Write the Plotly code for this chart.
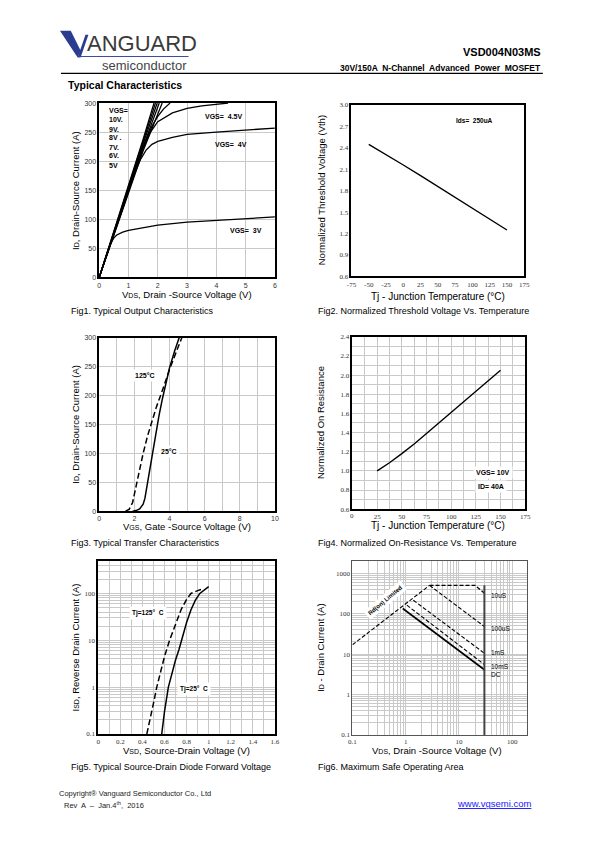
import math
import plotly.graph_objects as go

W, H = 595, 842

# ---------------- DATA ----------------
# Fig1 output characteristics (VDS V, ID A)
f1_v_3 = [0, 0.1, 0.2, 0.3, 0.4, 0.5, 0.6, 0.8, 1.0, 1.5, 2, 3, 4, 5, 6]
f1_i_3 = [0, 16, 32, 47, 59, 68, 73, 78, 81, 86, 90, 95, 98, 101, 104]
f1_v_4 = [0, 0.5, 1.0, 1.2, 1.4, 1.6, 1.8, 2.0, 2.5, 3, 4, 5, 6]
f1_i_4 = [0, 74, 148, 178, 202, 219, 229, 234, 241, 246, 250, 253, 257]
f1_v_45 = [0, 0.5, 1.0, 1.3, 1.5, 1.75, 2.0, 2.5, 3.0, 3.5, 4.0, 4.4]
f1_i_45 = [0, 75, 150, 195, 222, 250, 268, 283, 291, 295, 298, 300]
f1_v_5 = [0, 0.5, 1.0, 1.5, 1.8, 2.0, 2.2, 2.42]
f1_i_5 = [0, 76, 152, 225, 260, 277, 290, 300]
f1_v_6 = [0, 0.5, 1.0, 1.5, 2.15]
f1_i_6 = [0, 74, 148, 218, 300]
f1_v_7 = [0, 0.5, 1.0, 1.5, 2.05]
f1_i_7 = [0, 76, 152, 225, 300]
f1_v_8 = [0, 0.5, 1.0, 1.5, 1.98]
f1_i_8 = [0, 77, 154, 230, 300]
f1_v_9 = [0, 0.5, 1.0, 1.5, 1.92]
f1_i_9 = [0, 78, 156, 234, 300]
f1_v_10 = [0, 0.5, 1.0, 1.5, 1.87]
f1_i_10 = [0, 79, 158, 238, 300]

# Fig2 normalized threshold voltage
f2_t = [-50, -25, 0, 25, 50, 75, 100, 125, 150]
f2_v = [2.45, 2.31, 2.16, 2.01, 1.86, 1.71, 1.56, 1.41, 1.25]

# Fig3 transfer characteristics (VGS V, ID A)
f3_v_25 = [1.9, 2.1, 2.3, 2.5, 2.6, 2.7, 2.8, 3.0, 3.2, 3.4, 3.6, 3.8, 4.0, 4.3, 4.55]
f3_i_25 = [0, 1, 4, 12, 22, 40, 60, 100, 132, 165, 195, 222, 248, 278, 300]
f3_v_125 = [1.5, 1.7, 1.9, 2.1, 2.3, 2.5, 2.75, 3.0, 3.25, 3.55, 3.8, 4.0, 4.35, 4.7]
f3_i_125 = [0, 3, 15, 45, 75, 100, 130, 155, 180, 205, 228, 245, 273, 300]

# Fig4 normalized on-resistance
f4_t = [25, 37.5, 50, 62.5, 75, 100, 125, 150]
f4_r = [1.0, 1.085, 1.18, 1.28, 1.39, 1.61, 1.83, 2.05]

# Fig5 diode forward voltage (VSD V, ISD A)
f5_v_25 = [0.575, 0.6, 0.635, 0.67, 0.7, 0.73, 0.755, 0.8, 0.84, 0.88, 0.92, 0.96, 1.0]
f5_i_25 = [0.1, 0.3, 1, 2.2, 3.8, 6.2, 10, 24, 45, 72, 100, 120, 140]
f5_v_125 = [0.44, 0.47, 0.5, 0.53, 0.56, 0.6, 0.646, 0.7, 0.75, 0.8, 0.84, 0.9, 0.95]
f5_i_125 = [0.1, 0.2, 0.45, 1, 2, 4.5, 10, 22, 45, 75, 100, 115, 125]

# Fig6 safe operating area (VDS V, ID A)
f6_rds_v = [0.1, 2.8]
f6_rds_i = [17, 500]
f6_10us_v = [2.8, 20, 30]
f6_10us_i = [500, 500, 320]
f6_100us_v = [2.8, 30]
f6_100us_i = [500, 48]
f6_1ms_v = [1.39, 30]
f6_1ms_i = [214, 10.5]
f6_10ms_v = [1.05, 30]
f6_10ms_i = [162, 5.5]
f6_dc_v = [0.88, 30]
f6_dc_i = [134, 4.1]
f6_lim_v = [30, 30]
f6_lim_i = [0.1, 500]

# tick labels
f1_xt = [0, 1, 2, 3, 4, 5, 6]
f1_yt = [0, 50, 100, 150, 200, 250, 300]
f2_xt = [-75, -50, -25, 0, 25, 50, 75, 100, 125, 150, 175]
f2_yt = [0.6, 0.9, 1.2, 1.5, 1.8, 2.1, 2.4, 2.7, 3.0]
f2_ytl = ["0.6", "0.9", "1.2", "1.5", "1.8", "2.1", "2.4", "2.7", "3.0"]
f3_xt = [0, 2, 4, 6, 8, 10]
f3_yt = [0, 50, 100, 150, 200, 250, 300]
f4_xt = [0, 25, 50, 75, 100, 125, 150, 175]
f4_yt = [0.6, 0.8, 1.0, 1.2, 1.4, 1.6, 1.8, 2.0, 2.2, 2.4]
f4_ytl = ["0.6", "0.8", "1.0", "1.2", "1.4", "1.6", "1.8", "2.0", "2.2", "2.4"]
f5_xt = [0, 0.2, 0.4, 0.6, 0.8, 1.0, 1.2, 1.4, 1.6]
f5_xtl = ["0", "0.2", "0.4", "0.6", "0.8", "1", "1.2", "1.4", "1.6"]
f5_yt = [0.1, 1, 10, 100]
f5_ytl = ["0.1", "1", "10", "100"]
f6_xt = [0.1, 1, 10, 100]
f6_xtl = ["0.1", "1", "10", "100"]
f6_yt = [0.1, 1, 10, 100, 1000]
f6_ytl = ["0.1", "1", "10", "100", "1000"]


def px(x):
    return x / W


def py(y):
    return 1 - y / H


fig = go.Figure()


def add(x, y, n, dash="solid", width=1.4, color="black"):
    s = "" if n == 1 else str(n)
    fig.add_trace(go.Scatter(x=x, y=y, mode="lines", xaxis="x" + s, yaxis="y" + s,
                             line=dict(color=color, width=width, dash=dash),
                             hoverinfo="skip", showlegend=False))


for v, i in [(f1_v_3, f1_i_3), (f1_v_4, f1_i_4), (f1_v_45, f1_i_45), (f1_v_5, f1_i_5),
             (f1_v_6, f1_i_6), (f1_v_7, f1_i_7), (f1_v_8, f1_i_8), (f1_v_9, f1_i_9),
             (f1_v_10, f1_i_10)]:
    add(v, i, 1, width=1.3)
add(f2_t, f2_v, 2, width=1.4)
add(f3_v_25, f3_i_25, 3, width=1.5)
add(f3_v_125, f3_i_125, 3, dash="6px,3px", width=1.5)
add(f4_t, f4_r, 4, width=1.4)
add(f5_v_25, f5_i_25, 5, width=1.5)
add(f5_v_125, f5_i_125, 5, dash="6px,3px", width=1.5)
add(f6_rds_v, f6_rds_i, 6, dash="4px,2px", width=1.1)
add(f6_10us_v, f6_10us_i, 6, dash="4px,2px", width=1.3)
add(f6_100us_v, f6_100us_i, 6, dash="4px,2px", width=1.1)
add(f6_1ms_v, f6_1ms_i, 6, dash="4px,2px", width=1.1)
add(f6_10ms_v, f6_10ms_i, 6, dash="4px,2px", width=1.1)
add(f6_dc_v, f6_dc_i, 6, width=1.6)
add(f6_lim_v, f6_lim_i, 6, width=2, color="#444444")

SANS = "Liberation Sans, Arial, sans-serif"
SERIF = "Liberation Serif, Times New Roman, serif"
GRID = "#c9c9c9"


def axis(dom, anchor, rng, tv, tt=None, typ="linear", grid=True, minor=None,
         font=SANS, lw=1.5, lc="black"):
    d = dict(domain=dom, anchor=anchor, range=rng, type=typ, tickmode="array",
             tickvals=tv, ticktext=tt if tt is not None else [str(t) for t in tv],
             showline=True, mirror=True, linecolor=lc, linewidth=lw, ticks="",
             showgrid=grid, gridcolor=GRID, gridwidth=1, zeroline=False,
             tickfont=dict(family=font, size=7, color="#333333"), fixedrange=True)
    if minor is not None:
        d["minor"] = minor
    return d


lay = {}
# Fig1
lay["xaxis"] = axis([px(96), px(275)], "y", [0, 6], f1_xt)
lay["yaxis"] = axis([py(276), py(100)], "x", [0, 300], f1_yt)
# Fig2
lay["xaxis2"] = axis([px(353), px(529)], "y2", [-75, 175], f2_xt, grid=False, font=SERIF)
lay["yaxis2"] = axis([py(275), py(102)], "x2", [0.6, 3.0], f2_yt, f2_ytl, grid=False, font=SERIF)
# Fig3
lay["xaxis3"] = axis([px(96), px(275)], "y3", [0, 10], f3_xt,
                     minor=dict(dtick=1, tick0=0, showgrid=True, gridcolor=GRID))
lay["yaxis3"] = axis([py(512), py(337)], "x3", [0, 300], f3_yt)
# Fig4 (first tick label drawn as annotation below, it is otherwise dropped)
lay["xaxis4"] = axis([px(354), px(530)], "y4", [0, 175], f4_xt[1:], font=SERIF,
                     minor=dict(dtick=12.5, tick0=0, showgrid=True, gridcolor=GRID))
lay["yaxis4"] = axis([py(510), py(336)], "x4", [0.6, 2.4], f4_yt, f4_ytl, font=SERIF,
                     minor=dict(dtick=0.1, tick0=0.6, showgrid=True, gridcolor=GRID))
# Fig5
lay["xaxis5"] = axis([px(95), px(275)], "y5", [0, 1.6], f5_xt, f5_xtl, font=SERIF,
                     minor=dict(dtick=0.1, tick0=0, showgrid=True, gridcolor=GRID))
lay["yaxis5"] = axis([py(737), py(562)], "x5", [-1, 2.7], f5_yt, f5_ytl, typ="log", font=SERIF,
                     minor=dict(dtick="D1", showgrid=True, gridcolor=GRID))
# Fig6
lay["xaxis6"] = axis([px(354), px(532)], "y6", [-1, 2.28], f6_xt, f6_xtl, typ="log", font=SERIF,
                     minor=dict(dtick="D1", showgrid=True, gridcolor=GRID), lw=1, lc="#555555")
lay["yaxis6"] = axis([py(738), py(562)], "x6", [-1, 3.31], f6_yt, f6_ytl, typ="log", font=SERIF,
                     minor=dict(dtick="D1", showgrid=True, gridcolor=GRID), lw=1, lc="#555555")

ann = []


def pa(x, y, text, size=9, xanchor="center", angle=0, color="black", font=SANS):
    ann.append(dict(x=px(x), y=py(y), xref="paper", yref="paper", text=text,
                    showarrow=False, xanchor=xanchor, yanchor="middle", textangle=angle,
                    font=dict(family=font, size=size, color=color)))


def da(n, x, y, text, size=7, bg=None, angle=0, bold=True, xanchor="center"):
    s = "" if n == 1 else str(n)
    d = dict(x=x, y=y, xref="x" + s, yref="y" + s, text=("<b>%s</b>" % text) if bold else text,
             showarrow=False, xanchor=xanchor, yanchor="middle", textangle=angle,
             font=dict(family=SANS, size=size, color="black"))
    if bg:
        d["bgcolor"] = bg
        d["borderpad"] = 2
    ann.append(d)


# fig4 first x tick label
ann.append(dict(x=f4_xt[0], y=py(510), xref="x4", yref="paper", text=str(f4_xt[0]),
                showarrow=False, xanchor="center", yanchor="top", yshift=-1,
                font=dict(family=SERIF, size=7, color="#333333")))

sub = "<span style='font-size:7px'>%s</span>"

# header
pa(81, 40, "ANGUARD", size=22, xanchor="left", color="#3a3a3a",
   font="Liberation Sans Narrow, Liberation Sans, Arial Narrow, sans-serif")
pa(187, 62, "semiconductor", size=13, xanchor="right", color="#444444")
pa(548, 48, "<b>VSD004N03MS</b>", size=11, xanchor="right")
pa(548, 65, "<b>30V/150A  N-Channel  Advanced  Power  MOSFET</b>", size=8.5, xanchor="right")
pa(62, 82, "<b>Typical Characteristics</b>", size=10.5, xanchor="left")

# axis titles
pa(185, 293, "V" + sub % "DS" + ", Drain -Source Voltage (V)", size=9.5)
pa(72, 188, "I" + sub % "D" + ", Drain-Source Current (A)", size=9.5, angle=-90)
pa(441, 295, "Tj - Junction Temperature (°C)", size=10)
pa(322, 188, "Normalized Threshold Voltage (Vth)", size=9.5, angle=-90)
pa(185, 528, "V" + sub % "GS" + ", Gate -Source Voltage (V)", size=9.5)
pa(72, 424, "I" + sub % "D" + ", Drain-Source Current (A)", size=9.5, angle=-90)
pa(441, 527, "Tj - Junction Temperature (°C)", size=10)
pa(322, 423, "Normalized On Resistance", size=9.5, angle=-90)
pa(185, 754, "V" + sub % "SD" + ", Source-Drain Voltage (V)", size=9.5)
pa(72, 650, "I" + sub % "SD" + ", Reverse Drain Current (A)", size=9.5, angle=-90)
pa(440, 754, "V" + sub % "DS" + ", Drain -Source Voltage (V)", size=9.5)
pa(322, 650, "I" + sub % "D" + " - Drain Current (A)", size=9.5, angle=-90)

# captions
pa(65, 310, "Fig1. Typical Output Characteristics", size=9, xanchor="left")
pa(317, 310, "Fig2. Normalized Threshold Voltage Vs. Temperature", size=9, xanchor="left")
pa(65, 544, "Fig3. Typical Transfer Characteristics", size=9, xanchor="left")
pa(317, 544, "Fig4. Normalized On-Resistance Vs. Temperature", size=9, xanchor="left")
pa(65, 770, "Fig5. Typical Source-Drain Diode Forward Voltage", size=9, xanchor="left")
pa(317, 770, "Fig6. Maximum Safe Operating Area", size=9, xanchor="left")

# footer
pa(53, 797, "Copyright® Vanguard Semiconductor Co., Ltd", size=7.5, xanchor="left", color="#222222")
pa(58, 809, "Rev  A  –  Jan.4<sup>th</sup>,  2016", size=7.5, xanchor="left", color="#222222")
pa(538, 807, "<u>www.vgsemi.com</u>", size=9.5, xanchor="right", color="#1a1aff")

# in-plot labels
f1_lab = ["VGS=", "10V.", "9V.", "8V .", "7V.", "6V.", "5V"]
f1_lab_y = [287, 271, 255, 240, 224, 209, 193]
for t, yy in zip(f1_lab, f1_lab_y):
    da(1, 0.28, yy, t, xanchor="left")
da(1, 4.25, 277, "VGS=  4.5V")
da(1, 4.5, 229, "VGS=  4V")
da(1, 5.0, 80, "VGS=  3V")
da(2, 103, 2.78, "Ids=  250uA", size=6.5)
da(3, 2.6, 235, "125°C", bg="white")
da(3, 3.95, 103, "25°C", bg="white")
da(4, 142, 0.98, "VGS= 10V", bg="white")
da(4, 140, 0.84, "ID= 40A", bg="white")
da(5, 0.45, math.log10(38), "Tj=125°  C", bg="white", size=6.5)
da(5, 0.87, math.log10(0.93), "Tj=25°  C", bg="white", size=6.5)
da(6, math.log10(0.42), math.log10(214), "Rd(on) Limited", bg="white", angle=-40, size=6)
for t, yy in [("10uS", 280), ("100uS", 42), ("1mS", 10.7), ("10mS", 4.9), ("DC", 3.1)]:
    da(6, math.log10(36), math.log10(yy), t, size=6.5, bold=False, xanchor="left")


# logo shapes
def path(pts):
    return "M " + " L ".join("%.5f,%.5f" % (px(a), py(b)) for a, b in pts) + " Z"


shapes = [
    dict(type="path", xref="paper", yref="paper", path=path([(56, 27), (67, 27), (77, 47), (74, 54)]),
         fillcolor="#2b3b8f", line=dict(width=0)),
    dict(type="path", xref="paper", yref="paper", path=path([(74, 54), (82, 31), (85, 31), (77, 54)]),
         fillcolor="#2b3b8f", line=dict(width=0)),
    dict(type="line", xref="paper", yref="paper", x0=px(75), x1=px(187), y0=py(53), y1=py(53),
         line=dict(color="#3a4a9f", width=1)),
    dict(type="line", xref="paper", yref="paper", x0=px(57), x1=px(548), y0=py(70), y1=py(70),
         line=dict(color="black", width=1.2)),
]

fig.update_layout(width=W, height=H, autosize=False, margin=dict(l=0, r=0, t=0, b=0),
                  paper_bgcolor="white", plot_bgcolor="white", showlegend=False,
                  annotations=ann, shapes=shapes, **lay)
fig.write_html("out.html", config={"displayModeBar": False},
               post_script="document.body.style.margin='0px';")
